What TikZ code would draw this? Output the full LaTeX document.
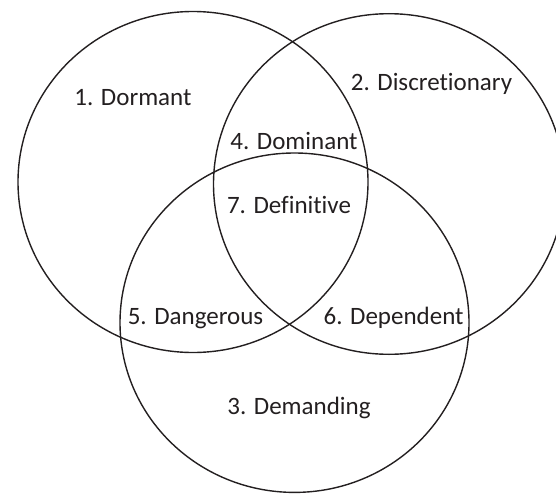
\documentclass[tikz,border=0pt]{standalone}
\usepackage{fontspec}
\setmainfont{Carlito}[Ligatures={NoCommon,NoRare}]
\definecolor{ink}{HTML}{231F20}
\begin{document}
\begin{tikzpicture}[x=1pt,y=-1pt,
  ring/.style={draw=ink, line width=1.4pt},
  lbl/.style={anchor=base, inner sep=0pt, text=ink, font=\fontsize{25}{28}\selectfont}]
\useasboundingbox (0,0) rectangle (556,495);
\coordinate (c1) at (193,182);
\coordinate (c2) at (389,184);
\coordinate (c3) at (294.5,322.7);
\begin{scope}
\clip (0,0) rectangle (556,495);
\draw[ring] (c1) ellipse [x radius=175pt, y radius=170.5pt];
\draw[ring] (c2) ellipse [x radius=175.5pt, y radius=170.3pt];
\draw[ring] (c3) ellipse [x radius=174.5pt, y radius=169.7pt];
\end{scope}
\node[lbl] (n1) at (133,105) {1. Dormant};
\node[lbl] (n2) at (431.5,90) {2. Discretionary};
\node[lbl] (n4) at (294,149) {4. Dominant};
\node[lbl] (n7) at (289,213) {7. Definitive};
\node[lbl] (n5) at (195.5,324) {5. Dangerous};
\node[lbl] (n6) at (393.6,324) {6. Dependent};
\node[lbl] (n3) at (299,414) {3. Demanding};
\end{tikzpicture}
\end{document}
